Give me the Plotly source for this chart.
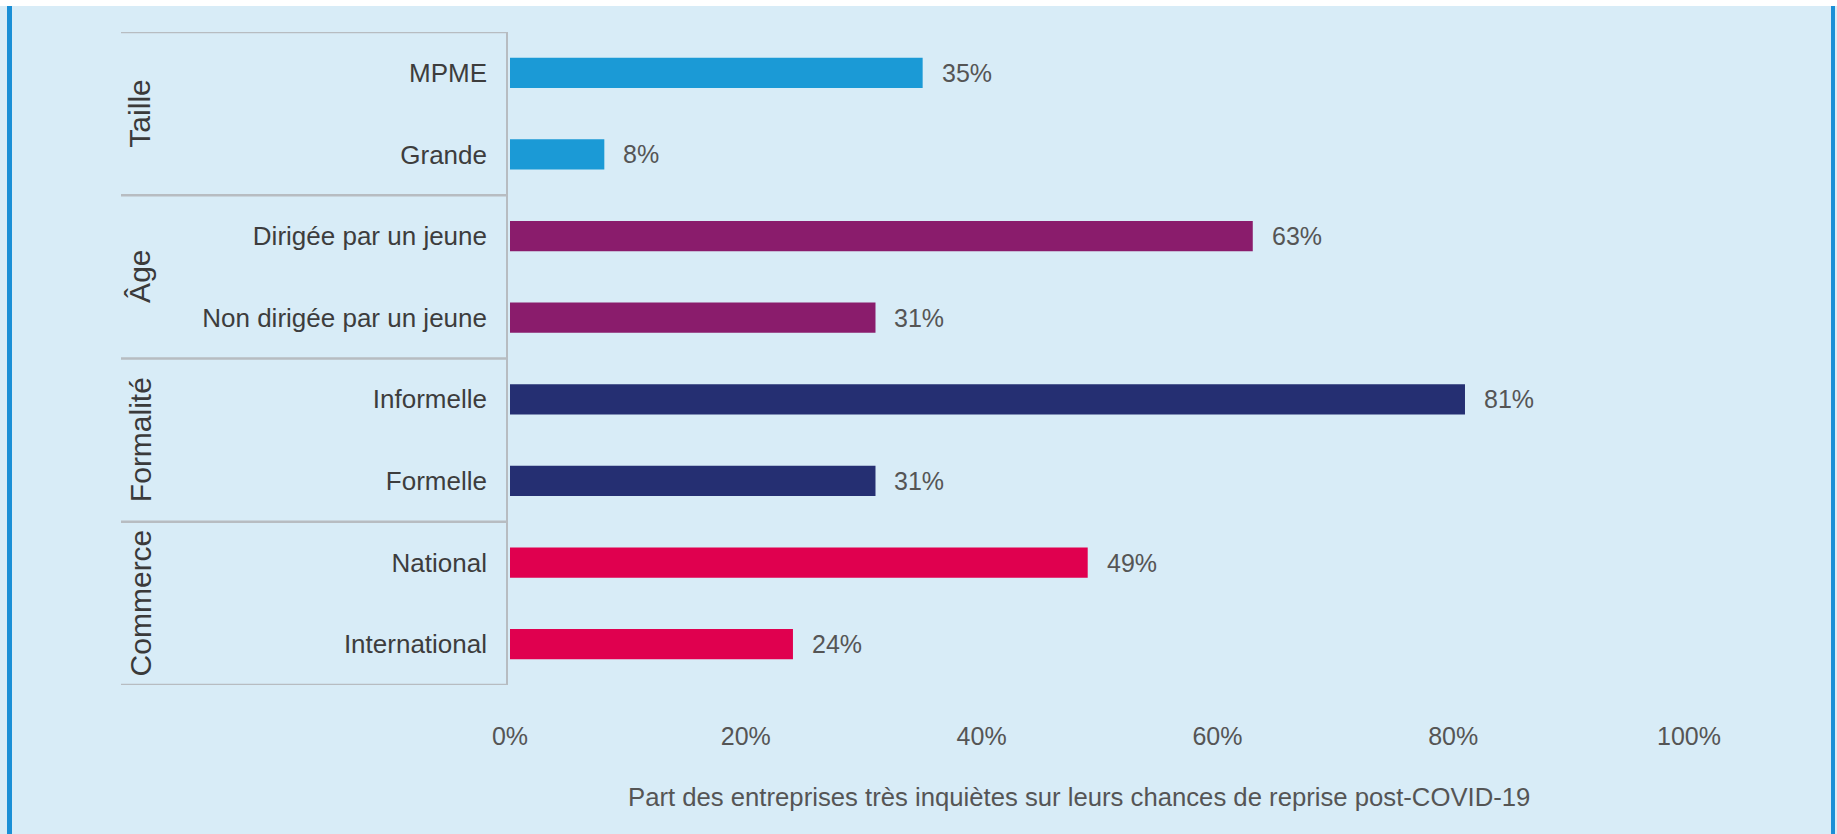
import plotly.graph_objects as go

# ---- data ----
groups = ["Taille", "Âge", "Formalité", "Commerce"]
categories = ["MPME", "Grande", "Dirigée par un jeune", "Non dirigée par un jeune",
              "Informelle", "Formelle", "National", "International"]
values = [35, 8, 63, 31, 81, 31, 49, 24]
group_index = [0, 0, 1, 1, 2, 2, 3, 3]
group_colors = ["#1b9ad6", "#8a1c6c", "#252f72", "#e0004f"]
x_ticks = [0, 20, 40, 60, 80, 100]
x_title = "Part des entreprises très inquiètes sur leurs chances de reprise post-COVID-19"

# ---- layout geometry (pixels) ----
W, H = 1837, 834
L, R, T, B = 510, 1689, 32, 685

def px2x(px):
    return (px - L) / (R - L)

def py2y(py):
    return (B - py) / (B - T)

FONT = "Liberation Sans, Arial, sans-serif"
TXT = "#444444"

fig = go.Figure()
fig.add_trace(go.Bar(
    x=values, y=categories, orientation="h",
    marker=dict(color=[group_colors[g] for g in group_index], line=dict(width=0)),
    width=0.37, hoverinfo="skip", showlegend=False,
))

annotations = []
# value labels
for c, v in zip(categories, values):
    annotations.append(dict(x=v, y=c, xref="x", yref="y", text=f"{v}%", showarrow=False,
                            xanchor="left", yanchor="middle", xshift=17,
                            font=dict(family=FONT, size=25, color="#555555")))
# group labels
for gi, g in enumerate(groups):
    idx = [i for i, k in enumerate(group_index) if k == gi]
    ymid = (idx[0] + idx[-1]) / 2
    annotations.append(dict(x=px2x(140), y=ymid, xref="paper", yref="y", text=g, showarrow=False,
                            textangle=-90, xanchor="center", yanchor="middle",
                            font=dict(family=FONT, size=30, color="#3a3a3a")))
# axis title
annotations.append(dict(x=px2x(1079), y=py2y(797), xref="paper", yref="paper", text=x_title,
                        showarrow=False, xanchor="center", yanchor="middle",
                        font=dict(family=FONT, size=25.7, color="#555555")))

shapes = []
# white top strip and blue side borders
shapes.append(dict(type="rect", xref="paper", yref="paper", x0=px2x(0), x1=px2x(W), y0=py2y(6), y1=py2y(0),
                   fillcolor="#ffffff", line=dict(width=0), layer="below"))
shapes.append(dict(type="rect", xref="paper", yref="paper", x0=px2x(7), x1=px2x(12), y0=py2y(H), y1=py2y(6),
                   fillcolor="#1a8fd6", line=dict(width=0), layer="below"))
shapes.append(dict(type="rect", xref="paper", yref="paper", x0=px2x(1831), x1=px2x(1835), y0=py2y(H), y1=py2y(6),
                   fillcolor="#1a8fd6", line=dict(width=0), layer="below"))
# label box
box_col = "#b7bcc1"
x_left, x_right = px2x(121), px2x(507)
for yb in [-0.5, 1.5, 3.5, 5.5, 7.5]:
    shapes.append(dict(type="line", xref="paper", yref="y", x0=x_left, x1=x_right, y0=yb, y1=yb,
                       line=dict(color=box_col, width=2.5)))
shapes.append(dict(type="line", xref="paper", yref="paper", x0=x_right, x1=x_right, y0=0, y1=1,
                   line=dict(color=box_col, width=2)))

fig.update_layout(
    width=W, height=H, autosize=False,
    margin=dict(l=L, r=W - R, t=T, b=H - B, pad=0),
    paper_bgcolor="#d8ecf7", plot_bgcolor="rgba(0,0,0,0)",
    font=dict(family=FONT, color=TXT),
    bargap=0.6,
    xaxis=dict(range=[0, 100], tickvals=x_ticks, ticktext=[f"{t}%" for t in x_ticks],
               showgrid=False, zeroline=False, showline=False, ticks="",
               tickfont=dict(family=FONT, size=25, color="#555555"), ticklabelstandoff=34,
               fixedrange=True),
    yaxis=dict(type="category", categoryorder="array", categoryarray=categories,
               range=[len(categories) - 0.5, -0.5], showgrid=False, zeroline=False, showline=False,
               ticks="", tickfont=dict(family=FONT, size=26, color="#3d3d3d"), ticklabelstandoff=22,
               fixedrange=True),
    annotations=annotations, shapes=shapes,
)

fig.write_html("out.html")
